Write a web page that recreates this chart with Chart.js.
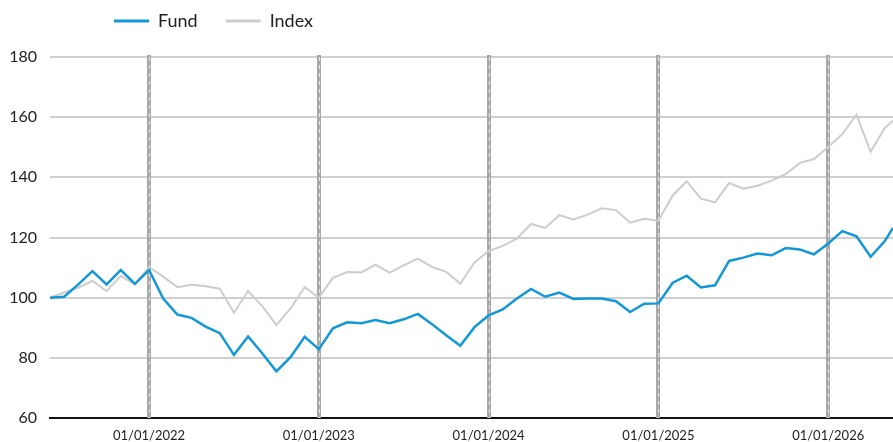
<!DOCTYPE html>
<html>
<head>
<meta charset="utf-8">
<script src="https://cdn.jsdelivr.net/npm/chart.js@4/dist/chart.umd.min.js"></script>
<style>
html,body{margin:0;padding:0;background:#fff;}
#wrap{width:893px;height:442px;}
</style>
</head>
<body>
<div id="wrap"><canvas id="c" width="893" height="442"></canvas></div>
<script>
const dates = [
 '2021-06-01','2021-07-01','2021-08-01','2021-09-01','2021-10-01','2021-11-01','2021-12-01',
 '2022-01-01','2022-02-01','2022-03-01','2022-04-01','2022-05-01','2022-06-01','2022-07-01','2022-08-01','2022-09-01','2022-10-01','2022-11-01','2022-12-01',
 '2023-01-01','2023-02-01','2023-03-01','2023-04-01','2023-05-01','2023-06-01','2023-07-01','2023-08-01','2023-09-01','2023-10-01','2023-11-01','2023-12-01',
 '2024-01-01','2024-02-01','2024-03-01','2024-04-01','2024-05-01','2024-06-01','2024-07-01','2024-08-01','2024-09-01','2024-10-01','2024-11-01','2024-12-01',
 '2025-01-01','2025-02-01','2025-03-01','2025-04-01','2025-05-01','2025-06-01','2025-07-01','2025-08-01','2025-09-01','2025-10-01','2025-11-01','2025-12-01',
 '2026-01-01','2026-02-01','2026-03-01','2026-04-01','2026-05-01','2026-05-19'
];
const fund = [
 100,100.3,104.4,108.8,104.4,109.2,104.6,
 109.2,99.7,94.4,93.3,90.4,88.2,81.0,87.1,81.5,75.5,80.2,87.0,
 82.9,89.8,91.8,91.5,92.6,91.5,92.8,94.6,91.2,87.5,84.0,90.2,
 94.1,96.1,99.7,102.9,100.3,101.7,99.6,99.7,99.7,98.8,95.2,98.0,
 98.1,104.9,107.3,103.4,104.1,112.2,113.3,114.7,114.1,116.5,116.0,114.4,
 118.0,122.1,120.4,113.6,118.8,123.2
];
const index = [
 100,101.7,103.3,105.6,102.2,107.2,104.4,
 110.2,107,103.5,104.3,103.8,103,95,102.2,97.2,90.9,96.4,103.5,
 100,106.6,108.5,108.4,111,108.3,110.7,113,110.2,108.6,104.6,111.7,
 115.5,117.2,119.6,124.5,123.2,127.4,126,127.6,129.7,129.1,124.9,126.2,
 125.6,133.9,138.7,132.9,131.7,138.1,136.2,137.2,138.9,141.1,144.8,146.1,
 150.1,154.4,160.8,148.5,156.4,158.8
];
const tickLabels = ['01/01/2022','01/01/2023','01/01/2024','01/01/2025','01/01/2026'];
const yTicks = [60,80,100,120,140,160,180];

function monthOffset(iso){
  const [y,m,d] = iso.split('-').map(Number);
  const dim = new Date(y, m, 0).getDate();
  return (y-2022)*12 + (m-1) + (d-1)/dim;
}
function labelToIso(l){ const [d,m,y]=l.split('/'); return y+'-'+m+'-'+d; }
const xs = dates.map(monthOffset);
const tickVals = tickLabels.map(l=>monthOffset(labelToIso(l)));
const FONT = 'Lato, "Open Sans", sans-serif';

const yearLines = {
  id:'yearLines',
  beforeDatasetsDraw(chart){
    const {ctx, chartArea, scales:{x}} = chart;
    ctx.save();
    tickVals.forEach(v=>{
      const px = Math.round(x.getPixelForValue(v));
      ctx.beginPath();
      ctx.strokeStyle = '#a9a9a9';
      ctx.lineWidth = 4;
      ctx.setLineDash([]);
      ctx.moveTo(px, chartArea.top-2);
      ctx.lineTo(px, chartArea.bottom);
      ctx.stroke();
      ctx.beginPath();
      ctx.strokeStyle = 'rgba(255,255,255,0.75)';
      ctx.lineWidth = 1;
      ctx.setLineDash([4,4]);
      ctx.moveTo(px+0.5, chartArea.top);
      ctx.lineTo(px+0.5, chartArea.bottom);
      ctx.stroke();
    });
    ctx.restore();
  }
};
const legendShift = {
  id:'legendShift',
  afterLayout(chart){
    const lg = chart.legend;
    lg.left = 86;
    lg.top = -16;
  }
};

new Chart(document.getElementById('c'), {
  type:'line',
  data:{
    datasets:[
      {label:'Fund', data: xs.map((x,i)=>({x, y:fund[i]})), borderColor:'#1297d7', backgroundColor:'#1297d7', borderWidth:2.5, pointRadius:0, tension:0, order:1},
      {label:'Index', data: xs.map((x,i)=>({x, y:index[i]})), borderColor:'#cdcdcd', backgroundColor:'#cdcdcd', borderWidth:2, pointRadius:0, tension:0, order:2}
    ]
  },
  options:{
    responsive:false,
    animation:false,
    events:[],
    layout:{padding:{top:1,right:0,left:0,bottom:0}},
    plugins:{
      tooltip:{enabled:false},
      legend:{
        position:'top', align:'start',
        labels:{
          boxWidth:35, boxHeight:3, padding:28, color:'#222',
          font:{family:FONT, size:18},
          generateLabels(chart){
            return chart.data.datasets.map((ds,i)=>({text:ds.label, fillStyle:ds.borderColor, strokeStyle:ds.borderColor, lineWidth:0, hidden:false, datasetIndex:i, fontColor:'#222'}));
          }
        }
      }
    },
    scales:{
      x:{
        type:'linear',
        min: xs[0], max: xs[xs.length-1],
        afterBuildTicks(s){ s.ticks = tickVals.map(v=>({value:v})); },
        afterFit(s){ s.height = 24; },
        grid:{display:false, drawTicks:false},
        border:{display:true, color:'#111', width:2},
        ticks:{
          padding:10, color:'#222', maxRotation:0, autoSkip:false,
          font:{family:FONT, size:13},
          callback(v){ const i = tickVals.findIndex(t=>Math.abs(t-v)<1e-6); return i>=0 ? tickLabels[i] : ''; }
        }
      },
      y:{
        min:60, max:180,
        afterBuildTicks(s){ s.ticks = yTicks.map(v=>({value:v})); },
        afterFit(s){ s.width = 50; },
        grid:{color:'#d0d0d0', lineWidth:2, drawTicks:false},
        border:{display:false},
        ticks:{padding:13, color:'#222', font:{family:FONT, size:16}}
      }
    }
  },
  plugins:[yearLines, legendShift]
});
</script>
</body>
</html>
